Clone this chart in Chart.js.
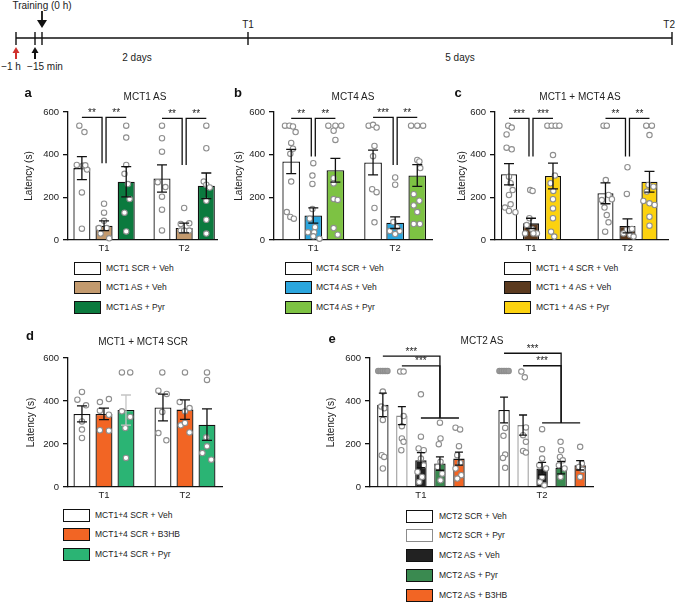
<!DOCTYPE html>
<html>
<head>
<meta charset="utf-8">
<script src="https://cdn.jsdelivr.net/npm/chart.js@4.4.1/dist/chart.umd.min.js"></script>
<style>
  body { margin: 0; background: #fff; }
  #page { position: relative; width: 675px; height: 604px; overflow: hidden; font-family: "Liberation Sans", Arial, sans-serif; color: #222; }
  canvas { position: absolute; }
  svg { position: absolute; left: 0; top: 0; }
  .title { position: absolute; font-size: 10px; transform: translate(-50%, -50%); white-space: nowrap; }
  .letter { position: absolute; font-size: 13px; font-weight: bold; transform: translate(-50%, -50%); color: #111; }
  .row { position: absolute; height: 13px; white-space: nowrap; font-size: 8.5px; }
  .box { position: absolute; left: 0; top: 0; width: 27px; height: 13px; box-sizing: border-box; border: 1.4px solid #111; }
  .txt { position: absolute; top: 0; line-height: 13px; }
</style>
</head>
<body>
<div id="page">
  <svg width="675" height="80">
    <g stroke="#111" stroke-width="1.4" fill="none">
      <line x1="16" y1="38" x2="672" y2="38"/>
      <line x1="16" y1="32" x2="16" y2="45"/>
      <line x1="35" y1="32" x2="35" y2="45"/>
      <line x1="42" y1="32" x2="42" y2="45"/>
      <line x1="248" y1="32" x2="248" y2="45"/>
      <line x1="672" y1="32" x2="672" y2="45"/>
      <line x1="42" y1="11" x2="42" y2="21" stroke-width="1.8"/>
      <line x1="35" y1="52" x2="35" y2="59" stroke-width="2"/>
      <line x1="16" y1="52" x2="16" y2="59" stroke="#d0312d" stroke-width="2"/>
    </g>
    <polygon points="37,20 47,20 42,28" fill="#111"/>
    <polygon points="31.5,53 38.5,53 35,47" fill="#111"/>
    <polygon points="12.5,53 19.5,53 16,47" fill="#d0312d"/>
    <g font-family="Liberation Sans, Arial, sans-serif" font-size="10" fill="#222" text-anchor="middle">
      <text x="42" y="9">Training (0 h)</text>
      <text x="248" y="28">T1</text>
      <text x="675" y="28" text-anchor="end">T2</text>
      <text x="137" y="61">2 days</text>
      <text x="460" y="61">5 days</text>
      <text x="11" y="70">−1 h</text>
      <text x="45" y="70">−15 min</text>
    </g>
  </svg>
</div>
<script>
Chart.defaults.font.family = '"Liberation Sans", Arial, sans-serif';
Chart.defaults.color = '#222';

const groups = ['T1', 'T2'];
const groupX = [1, 2];
const yTicks = [0, 200, 400, 600];

// a: MCT1 AS
const aLabels = ['MCT1 SCR + Veh', 'MCT1 AS + Veh', 'MCT1 AS + Pyr'];
const aColors = ['#ffffff', '#c39a6e', '#0b7a3e'];
const aMeans = [[337, 288], [67, 56], [273, 254]];
const aSem = [[54, 64], [23, 23], [71, 60]];
const aPoints = [
  [[[-0.15, 536], [0.15, 506], [-0.3, 352], [0.05, 348], [0.3, 330], [0.2, 350], [0, 223], [0, 53]],
   [[0, 536], [0, 477], [0, 414], [-0.25, 271], [0.2, 248], [0, 203], [0, 142], [0, 45]]],
  [[[0, 170], [0, 128], [0, 90], [-0.3, 56], [0.15, 56], [-0.2, 30], [0.3, 8]],
   [[0, 150], [-0.2, 75], [0.3, 78], [-0.2, 44], [0, 44], [0.3, 44]]],
  [[[0, 536], [0, 480], [0, 352], [-0.1, 310], [0.1, 262], [0.2, 192], [-0.1, 128], [0, 40]],
   [[0, 536], [0, 430], [-0.15, 274], [0, 259], [0.2, 246], [0, 184], [0, 95], [0, 30]]]
];
const aBrackets = [[0, 0, 1, 575, 360, '**'], [0, 2, 1, 575, 360, '**'], [1, 0, 1, 570, 352, '**'], [1, 2, 1, 570, 352, '**']];

// b: MCT4 AS
const bLabels = ['MCT4 SCR + Veh', 'MCT4 AS + Veh', 'MCT4 AS + Pyr'];
const bColors = ['#ffffff', '#2ba6de', '#7dc243'];
const bMeans = [[368, 363], [115, 81], [327, 302]];
const bSem = [[57, 58], [36, 27], [56, 51]];
const bPoints = [
  [[[-0.35, 536], [-0.1, 536], [0.1, 532], [0.25, 506], [0, 455], [0.1, 428], [-0.05, 404], [0, 274], [-0.25, 131], [-0.05, 108], [0.15, 100]],
   [[-0.25, 536], [0, 540], [0.2, 527], [0.08, 441], [0, 393], [-0.05, 238], [0.2, 224], [0.08, 150], [0.08, 83]]],
  [[[0, 360], [-0.05, 302], [-0.05, 263], [-0.05, 145], [-0.2, 100], [0.1, 60], [-0.3, 36], [0.05, 36], [0, 17], [0.35, 6]],
   [[0, 293], [0, 259], [-0.1, 84], [0.1, 60], [-0.3, 42], [0.25, 42], [0, 28]]],
  [[[-0.4, 536], [0, 536], [0.33, 536], [-0.1, 512], [0, 469], [-0.1, 290], [-0.1, 265], [-0.1, 192], [0.13, 188], [-0.1, 56], [0.13, 25]],
   [[-0.35, 536], [0, 536], [0.33, 536], [0, 375], [0.12, 368], [0.17, 337], [-0.2, 215], [0.12, 184], [-0.2, 162], [0, 131], [-0.2, 75], [0.15, 75]]]
];
const bBrackets = [[0, 0, 1, 570, 391, '**'], [0, 2, 1, 570, 391, '**'], [1, 0, 1, 575, 352, '***'], [1, 2, 1, 575, 352, '**']];

// c: MCT1 + MCT4 AS
const cLabels = ['MCT1 + 4 SCR + Veh', 'MCT1 + 4 AS + Veh', 'MCT1 + 4 AS + Pyr'];
const cColors = ['#ffffff', '#5b3a1f', '#fcd20f'];
const cMeans = [[308, 219], [78, 66], [300, 273]];
const cSem = [[50, 49], [24, 33], [60, 49]];
const cPoints = [
  [[[-0.05, 536], [0.17, 527], [-0.15, 495], [-0.15, 433], [0.17, 425], [0, 297], [0.1, 266], [0.23, 234], [0, 211], [0.1, 167], [-0.25, 152], [0, 136], [0.4, 130]],
   [[-0.12, 536], [0.08, 536], [0.02, 281], [0.19, 211], [-0.23, 187], [0.4, 191], [-0.06, 152], [0.08, 117], [0.19, 83], [-0.02, 39]]],
  [[[-0.05, 234], [0.1, 230], [-0.1, 102], [-0.27, 70], [0.05, 52], [0.37, 31], [-0.37, 31], [0.15, 31]],
   [[0, 341], [-0.04, 216], [0.28, 52], [-0.04, 47], [-0.25, 31], [0.17, 23], [0.38, 16]]],
  [[[-0.35, 536], [-0.08, 536], [0.17, 536], [0.4, 536], [0, 398], [0.12, 302], [-0.15, 266], [0.02, 230], [0, 191], [0, 148], [0, 102], [-0.12, 39], [0.08, 16]],
   [[-0.2, 536], [0.15, 536], [0, 492], [-0.06, 258], [0.25, 250], [-0.17, 227], [-0.38, 183], [0, 172], [0.32, 164], [0, 109], [0, 67]]]
];
const cBrackets = [[0, 0, 1, 570, 391, '***'], [0, 2, 1, 570, 391, '***'], [1, 0, 1, 570, 391, '**'], [1, 2, 1, 570, 391, '**']];

// d: MCT1 + MCT4 SCR
const dLabels = ['MCT1+4 SCR + Veh', 'MCT1+4 SCR + B3HB', 'MCT1+4 SCR + Pyr'];
const dColors = ['#ffffff', '#f26524', '#2bb474'];
const dMeans = [[340, 370], [340, 360], [358, 290]];
const dSem = [[37, 62], [27, 45], [70, 73]];
const dErrColors = [['#111', '#111'], ['#111', '#111'], ['#c4c4c4', '#111']];
const dPoints = [
  [[[0, 442], [-0.27, 406], [0.24, 380], [0, 305], [0, 267], [0, 228]],
   [[-0.04, 533], [-0.27, 448], [0.22, 433], [-0.04, 349], [-0.27, 251], [0.2, 217]]],
  [[[-0.24, 395], [0.29, 409], [-0.24, 355], [0.29, 336], [-0.24, 264], [0.29, 262]],
   [[0, 533], [-0.31, 395], [0, 352], [0.27, 367], [-0.25, 287], [0, 298], [0.27, 254]]],
  [[[-0.24, 533], [0.25, 533], [-0.24, 352], [0.25, 326], [-0.04, 274], [0, 135]],
   [[0, 533], [0, 498], [-0.04, 231], [0, 189], [-0.27, 158], [0.25, 127]]]
];

// e: MCT2 AS
const eLabels = ['MCT2 SCR + Veh', 'MCT2 SCR + Pyr', 'MCT2 AS + Veh', 'MCT2 AS + Pyr', 'MCT2 AS + B3HB'];
const eColors = ['#ffffff', '#ffffff', '#222222', '#3a8a50', '#f26524'];
const eBorders = ['#111', '#8c8c8c', '#111', '#111', '#111'];
const eMeans = [[382, 358], [332, 288], [125, 86], [109, 90], [132, 101]];
const eSem = [[55, 60], [42, 47], [35, 29], [31, 29], [30, 22]];
const ePoints = [
  [[[-0.4, 540], [-0.2, 540], [0, 540], [0.2, 540], [0.4, 540], [0, 444], [-0.15, 374], [0.12, 366], [0, 312], [-0.1, 148], [0.12, 140], [0, 86]],
   [[-0.4, 540], [-0.2, 540], [0, 540], [0.2, 540], [0.4, 540], [0.1, 275], [-0.05, 238], [0.1, 151], [-0.1, 135], [0.1, 89]]],
  [[[-0.15, 537], [0.15, 537], [0.15, 330], [0, 283], [0, 226], [0.15, 210], [-0.05, 171]],
   [[-0.15, 537], [0.15, 510], [0.25, 277], [0, 241], [0.25, 210], [0, 168], [0.25, 160]]],
  [[[0, 431], [0, 234], [-0.2, 179], [0.25, 171], [0, 132], [0.25, 101], [-0.3, 70], [0.1, 47], [-0.15, 23]],
   [[0, 269], [0, 176], [0, 132], [-0.25, 101], [0.35, 86], [0, 47], [-0.2, 23], [0.2, 8]]],
  [[[0, 299], [0.05, 226], [-0.1, 199], [0.05, 117], [-0.2, 93], [0.2, 62], [0.05, 31]],
   [[-0.05, 210], [0, 171], [-0.1, 140], [0.15, 124], [-0.2, 101], [0.3, 86], [-0.05, 47]]],
  [[[-0.3, 276], [0.1, 268], [0, 190], [-0.15, 148], [0.1, 112], [-0.3, 86], [0.2, 55], [-0.15, 39]],
   [[0, 187], [0.15, 109], [-0.1, 93], [0.2, 80], [0, 47]]]
];
const eBrackets = [[0, 0, 3, 609, 321, '***'], [0, 1, 3, 563, 321, '***'], [1, 0, 3, 622, 298, '***'], [1, 1, 3, 564, 298, '***']];
const eBaseLines = [[0, 2, 4, 321], [1, 2, 4, 298]];

const page = document.getElementById('page');

// points, error bars and significance brackets, placed from the bar elements and the y scale
function makeMarks(p) {
  return {
    id: 'marks',
    afterDatasetsDraw(chart) {
      const ctx = chart.ctx;
      const ys = chart.scales.y;
      const bar = (d, g) => chart.getDatasetMeta(d).data[g];
      ctx.save();
      p.points.forEach((byGroup, d) => {
        byGroup.forEach((pts, g) => {
          const b = bar(d, g);
          pts.forEach(([dx, v]) => {
            ctx.beginPath();
            ctx.arc(b.x + dx * b.width, ys.getPixelForValue(v), 2.7, 0, Math.PI * 2);
            ctx.fillStyle = (p.filledAt && d === 0 && v >= p.filledAt) ? '#9a9a9a' : '#ffffff';
            ctx.fill();
            ctx.lineWidth = 1.1;
            ctx.strokeStyle = '#8e8e8e';
            ctx.stroke();
          });
        });
      });
      p.sem.forEach((errs, d) => {
        errs.forEach((e, g) => {
          const b = bar(d, g);
          const m = p.means[d][g];
          const y1 = ys.getPixelForValue(m + e), y2 = ys.getPixelForValue(m - e);
          const h = p.capW / 2;
          ctx.strokeStyle = p.errColors ? p.errColors[d][g] : '#111';
          ctx.lineWidth = 1.3;
          ctx.beginPath();
          ctx.moveTo(b.x, y1); ctx.lineTo(b.x, y2);
          ctx.moveTo(b.x - h, y1); ctx.lineTo(b.x + h, y1);
          ctx.moveTo(b.x - h, y2); ctx.lineTo(b.x + h, y2);
          ctx.stroke();
        });
      });
      ctx.strokeStyle = '#111';
      ctx.fillStyle = '#222';
      ctx.lineWidth = 1.3;
      ctx.font = '10px "Liberation Sans", Arial, sans-serif';
      ctx.textAlign = 'center';
      ctx.textBaseline = 'alphabetic';
      (p.brackets || []).forEach(([g, from, to, top, bottom, stars]) => {
        const x1 = bar(from, g).x;
        const xv = bar(to, g).x + (from < to ? -p.gap : p.gap);
        const yt = ys.getPixelForValue(top), yb = ys.getPixelForValue(bottom);
        ctx.beginPath();
        ctx.moveTo(x1, yt); ctx.lineTo(xv, yt); ctx.lineTo(xv, yb);
        ctx.stroke();
        ctx.fillText(stars, (x1 + xv) / 2, yt - 1.5);
      });
      (p.baseLines || []).forEach(([g, from, to, v]) => {
        const y = ys.getPixelForValue(v);
        ctx.beginPath();
        ctx.moveTo(bar(from, g).x, y); ctx.lineTo(bar(to, g).x, y);
        ctx.stroke();
      });
      ctx.restore();
    }
  };
}

function makePanel(p) {
  const cv = document.createElement('canvas');
  cv.width = p.width;
  cv.height = p.height;
  cv.style.left = p.left + 'px';
  cv.style.top = p.top + 'px';
  page.appendChild(cv);

  new Chart(cv, {
    type: 'bar',
    data: {
      datasets: p.labels.map((lab, d) => ({
        label: lab,
        data: p.means[d].map((v, g) => ({ x: groupX[g], y: v })),
        backgroundColor: p.colors[d],
        borderColor: p.borders ? p.borders[d] : '#111',
        borderWidth: 1.3,
        borderSkipped: 'bottom',
        categoryPercentage: p.catPct,
        barPercentage: p.barPct
      }))
    },
    options: {
      responsive: false,
      animation: false,
      devicePixelRatio: 1,
      layout: { padding: { top: p.padTop, right: p.padRight, left: 0, bottom: 0 } },
      plugins: { legend: { display: false }, tooltip: { enabled: false } },
      scales: {
        x: {
          type: 'linear', min: p.xMin, max: p.xMax, offset: false,
          grid: { display: false, drawTicks: false },
          border: { display: true, color: '#111', width: 1.3 },
          afterBuildTicks: s => { s.ticks = groupX.map(v => ({ value: v })); },
          afterFit: s => { s.height = 20; },
          ticks: { callback: v => groups[groupX.indexOf(v)], font: { size: 9.5 }, color: '#222', padding: 3, maxRotation: 0, autoSkip: false }
        },
        y: {
          min: 0, max: 600,
          afterBuildTicks: s => { s.ticks = yTicks.map(v => ({ value: v })); },
          afterFit: s => { s.width = p.axisW; },
          ticks: { font: { size: 9.5 }, color: '#222', padding: 4 },
          grid: { drawOnChartArea: false, drawTicks: true, tickLength: 5, color: '#111', lineWidth: 1.3 },
          border: { display: true, color: '#111', width: 1.3 },
          title: { display: true, text: 'Latency (s)', font: { size: 10 }, color: '#222', padding: { top: 4, bottom: 0 } }
        }
      }
    },
    plugins: [makeMarks(p)]
  });

  const t = document.createElement('div');
  t.className = 'title';
  t.style.left = p.titleAt[0] + 'px';
  t.style.top = p.titleAt[1] + 'px';
  t.textContent = p.title;
  page.appendChild(t);

  const l = document.createElement('div');
  l.className = 'letter';
  l.style.left = p.letterAt[0] + 'px';
  l.style.top = p.letterAt[1] + 'px';
  l.textContent = p.letter;
  page.appendChild(l);

  p.labels.forEach((lab, d) => {
    const row = document.createElement('div');
    row.className = 'row';
    row.style.left = p.legendAt[0] + 'px';
    row.style.top = (p.legendAt[1] - 6.5 + d * p.legendStep) + 'px';
    row.innerHTML = '<div class="box"></div><div class="txt"></div>';
    row.firstChild.style.background = p.colors[d];
    if (p.borders) row.firstChild.style.borderColor = p.borders[d];
    row.lastChild.style.left = (p.legendTextX - p.legendAt[0]) + 'px';
    row.lastChild.textContent = lab;
    page.appendChild(row);
  });
}

makePanel({
  letter: 'a', letterAt: [28, 92], title: 'MCT1 AS', titleAt: [145, 96],
  left: 19, top: 90, width: 206, height: 170, axisW: 49, padTop: 22, padRight: 8,
  xMin: 0.55, xMax: 2.41, catPct: 0.83, barPct: 0.77, capW: 10, gap: 2,
  labels: aLabels, colors: aColors, means: aMeans, sem: aSem, points: aPoints, brackets: aBrackets,
  legendAt: [74, 268], legendTextX: 106, legendStep: 19.5
});
makePanel({
  letter: 'b', letterAt: [238, 92], title: 'MCT4 AS', titleAt: [353, 96],
  left: 229, top: 90, width: 211, height: 170, axisW: 45, padTop: 22, padRight: 8,
  xMin: 0.52, xMax: 2.45, catPct: 0.81, barPct: 0.8, capW: 10, gap: 2,
  labels: bLabels, colors: bColors, means: bMeans, sem: bSem, points: bPoints, brackets: bBrackets,
  legendAt: [285, 268], legendTextX: 316, legendStep: 19.5
});
makePanel({
  letter: 'c', letterAt: [458, 92], title: 'MCT1 + MCT4 AS', titleAt: [580, 96],
  left: 452, top: 90, width: 222, height: 170, axisW: 43, padTop: 22, padRight: 6,
  xMin: 0.627, xMax: 2.42, catPct: 0.684, barPct: 0.73, capW: 10, gap: 2,
  labels: cLabels, colors: cColors, means: cMeans, sem: cSem, points: cPoints, brackets: cBrackets,
  legendAt: [504, 268], legendTextX: 536, legendStep: 19.5
});
makePanel({
  letter: 'd', letterAt: [30, 335], title: 'MCT1 + MCT4 SCR', titleAt: [143, 341],
  left: 21, top: 336, width: 209, height: 171, axisW: 47, padTop: 22, padRight: 8,
  xMin: 0.556, xMax: 2.457, catPct: 0.815, barPct: 0.77, capW: 10, gap: 2,
  labels: dLabels, colors: dColors, means: dMeans, sem: dSem, points: dPoints, errColors: dErrColors,
  legendAt: [63, 515], legendTextX: 95, legendStep: 19.5
});
makePanel({
  letter: 'e', letterAt: [332, 338], title: 'MCT2 AS', titleAt: [482, 340],
  left: 321, top: 336, width: 280, height: 171, axisW: 49, padTop: 22, padRight: 8,
  xMin: 0.58, xMax: 2.42, catPct: 0.785, barPct: 0.6, capW: 8, gap: 0, filledAt: 535,
  labels: eLabels, colors: eColors, borders: eBorders, means: eMeans, sem: eSem, points: ePoints,
  brackets: eBrackets, baseLines: eBaseLines,
  legendAt: [406, 516], legendTextX: 439, legendStep: 19.75
});
</script>
</body>
</html>
